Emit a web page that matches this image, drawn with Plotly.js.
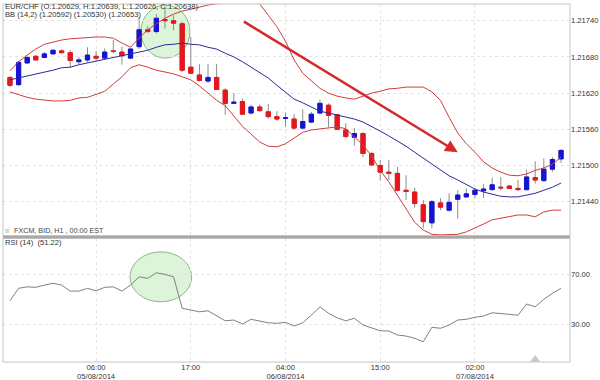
<!DOCTYPE html>
<html><head><meta charset="utf-8">
<script src="https://cdn.plot.ly/plotly-3.0.1.min.js"></script>
<style>html,body{margin:0;padding:0;background:#fff}#c{width:600px;height:380px}</style>
</head><body><div id="c"></div>
<script>
// ---- data (hourly EUR/CHF candles) ----
const open = [1.21646,1.21634,1.21670,1.21681,1.21679,1.21685,1.21690,1.21687,1.21672,1.21675,
1.21681,1.21678,1.21690,1.21688,1.21678,1.21697,1.21725,1.21722,1.21742,1.21740,
1.21735,1.21663,1.21650,1.21640,1.21646,1.21625,1.21603,1.21606,1.21587,1.21597,
1.21589,1.21581,1.21578,1.21577,1.21562,1.21572,1.21587,1.21600,1.21584,1.21559,
1.21547,1.21553,1.21520,1.21500,1.21489,1.21487,1.21459,1.21456,1.21435,1.21405,
1.21438,1.21426,1.21444,1.21448,1.21452,1.21458,1.21460,1.21464,1.21466,1.21462,
1.21460,1.21480,1.21475,1.21494,1.21511];
const high = [1.21648,1.21673,1.21683,1.21683,1.21688,1.21692,1.21693,1.21691,1.21680,1.21696,
1.21690,1.21694,1.21708,1.21697,1.21695,1.21746,1.21731,1.21751,1.21763,1.21749,
1.21738,1.21713,1.21668,1.21668,1.21668,1.21628,1.21620,1.21611,1.21601,1.21601,
1.21602,1.21590,1.21587,1.21585,1.21593,1.21589,1.21609,1.21603,1.21585,1.21570,
1.21562,1.21555,1.21522,1.21509,1.21509,1.21498,1.21484,1.21463,1.21443,1.21443,
1.21446,1.21454,1.21459,1.21462,1.21463,1.21469,1.21480,1.21481,1.21468,1.21476,
1.21493,1.21507,1.21512,1.21514,1.21527];
const low = [1.21630,1.21632,1.21669,1.21674,1.21678,1.21685,1.21686,1.21662,1.21668,1.21671,
1.21673,1.21677,1.21686,1.21667,1.21677,1.21693,1.21720,1.21719,1.21727,1.21724,
1.21655,1.21651,1.21639,1.21637,1.21625,1.21584,1.21603,1.21584,1.21585,1.21589,
1.21578,1.21574,1.21564,1.21559,1.21560,1.21570,1.21585,1.21564,1.21559,1.21546,
1.21533,1.21514,1.21499,1.21475,1.21476,1.21457,1.21443,1.21430,1.21396,1.21396,
1.21426,1.21424,1.21412,1.21447,1.21446,1.21446,1.21459,1.21459,1.21461,1.21458,
1.21459,1.21470,1.21473,1.21490,1.21504];
const close = [1.21633,1.21671,1.21679,1.21675,1.21685,1.21691,1.21687,1.21674,1.21675,1.21683,
1.21678,1.21688,1.21689,1.21682,1.21693,1.21725,1.21722,1.21744,1.21740,1.21736,
1.21658,1.21653,1.21641,1.21646,1.21626,1.21603,1.21605,1.21585,1.21597,1.21591,
1.21581,1.21577,1.21579,1.21562,1.21573,1.21585,1.21603,1.21583,1.21560,1.21548,
1.21553,1.21520,1.21501,1.21489,1.21487,1.21459,1.21457,1.21437,1.21407,1.21440,
1.21431,1.21439,1.21451,1.21453,1.21459,1.21461,1.21468,1.21463,1.21462,1.21460,
1.21481,1.21476,1.21494,1.21510,1.21525];
const bbUpper = [1.21657,1.21672,1.21683,1.21693,1.21701,1.21705,1.21708,1.21710,1.21711,1.21713,
1.21713,1.21713,1.21711,1.21703,1.21696,1.21711,1.21725,1.21735,1.21744,1.21751,
1.21756,1.21759,1.21763,1.21766,1.21768,1.21769,1.21779,1.21783,1.21779,1.21768,
1.21749,1.21730,1.21706,1.21675,1.21653,1.21640,1.21628,1.21620,1.21615,1.21612,
1.21610,1.21615,1.21620,1.21623,1.21627,1.21628,1.21630,1.21630,1.21630,1.21622,
1.21608,1.21580,1.21554,1.21536,1.21522,1.21506,1.21496,1.21489,1.21484,1.21483,
1.21486,1.21492,1.21496,1.21502,1.21514];
const bbMiddle = [1.21642,1.21645,1.21648,1.21652,1.21655,1.21658,1.21662,1.21663,1.21667,1.21670,
1.21672,1.21675,1.21678,1.21681,1.21685,1.21688,1.21691,1.21696,1.21700,1.21701,
1.21703,1.21701,1.21700,1.21696,1.21693,1.21686,1.21680,1.21672,1.21663,1.21653,
1.21645,1.21633,1.21622,1.21610,1.21604,1.21597,1.21590,1.21587,1.21584,1.21580,
1.21577,1.21572,1.21565,1.21557,1.21549,1.21541,1.21532,1.21522,1.21512,1.21502,
1.21492,1.21483,1.21476,1.21468,1.21461,1.21456,1.21453,1.21449,1.21448,1.21448,
1.21451,1.21454,1.21459,1.21464,1.21471];
const bbLower = [1.21622,1.21617,1.21613,1.21610,1.21608,1.21607,1.21607,1.21608,1.21612,1.21613,
1.21618,1.21623,1.21635,1.21647,1.21662,1.21667,1.21663,1.21658,1.21655,1.21652,
1.21647,1.21642,1.21632,1.21620,1.21608,1.21599,1.21582,1.21565,1.21552,1.21539,
1.21532,1.21531,1.21536,1.21546,1.21555,1.21559,1.21561,1.21562,1.21564,1.21561,
1.21547,1.21534,1.21516,1.21492,1.21473,1.21451,1.21428,1.21406,1.21393,1.21386,
1.21385,1.21385,1.21386,1.21390,1.21396,1.21403,1.21410,1.21413,1.21416,1.21418,
1.21418,1.21415,1.21423,1.21426,1.21426];
const rsi = [48.6,58.6,59.8,59.4,61.2,62.6,61.2,56.4,56.4,58.6,
56.6,59.4,59.8,56.4,61.2,67.8,66.6,71.0,69.8,67.8,
42.6,41.2,39.8,40.6,36.4,32.6,33.2,30.0,33.8,32.6,
31.0,30.6,31.4,28.4,31.0,37.2,43.8,38.6,35.0,32.6,
34.6,29.2,26.6,24.6,24.4,21.2,20.4,18.6,15.8,27.4,
26.6,29.2,33.2,33.8,35.4,36.4,39.0,38.6,37.8,37.0,
46.0,43.8,49.8,54.6,58.6];
const tickIndex = [10, 21, 32, 43, 54];
const tickText = ['06:00<br>05/08/2014','17:00','04:00<br>06/08/2014','15:00','02:00<br>07/08/2014'];
const priceTicks = [1.2144,1.2150,1.2156,1.2162,1.2168,1.2174];
const rsiTicks = [30, 70];
const flagIndex = [61];
const flagRsi = [1.6];
const headerText = 'EUR/CHF (O:1.20629, H:1.20639, L:1.20626, C:1.20638)';
const bbText = 'BB (14,2) (1.20592) (1.20530) (1.20653)';
const sourceText = 'FXCM, BID, H1 , 00:00 EST';
const rsiText = 'RSI (14)  (51.22)';

// ---- chart ----
const idx = open.map((_, i) => i);
const bodyHigh = open.map((o, i) => Math.max(o, close[i]));
const bodyLow = open.map((o, i) => Math.min(o, close[i]));
const FONT = '"Liberation Sans", Arial, sans-serif';
const FS = 7.6;
const BLUE = '#1414d4', RED = '#e8161c', WICK = '#8c8c8c';

const traces = [
  {type:'scatter', mode:'lines', x:idx, y:bbUpper, line:{color:'#d23c3c', width:1}, hoverinfo:'skip'},
  {type:'scatter', mode:'lines', x:idx, y:bbLower, line:{color:'#d23c3c', width:1}, hoverinfo:'skip'},
  {type:'scatter', mode:'lines', x:idx, y:bbMiddle, line:{color:'#2a2aa0', width:1}, hoverinfo:'skip'},
  {type:'candlestick', x:idx, open:open, high:high, low:low, close:close,
   increasing:{line:{color:WICK, width:1}, fillcolor:'rgba(0,0,0,0)'},
   decreasing:{line:{color:WICK, width:1}, fillcolor:'rgba(0,0,0,0)'},
   whiskerwidth:0, hoverinfo:'skip'},
  {type:'candlestick', x:idx, open:open, high:bodyHigh, low:bodyLow, close:close,
   increasing:{line:{color:BLUE, width:1}, fillcolor:BLUE},
   decreasing:{line:{color:RED, width:1}, fillcolor:RED},
   whiskerwidth:0, hoverinfo:'skip'},
  {type:'scatter', mode:'lines', x:idx, y:rsi, yaxis:'y2', line:{color:'#808080', width:1}, hoverinfo:'skip'},
  {type:'scatter', mode:'markers', x:flagIndex, y:flagRsi, yaxis:'y2', cliponaxis:false,
   marker:{symbol:'triangle-up', size:9, color:'#c8c8c8'}, hoverinfo:'skip'}
];

const gridC = '#e4e4e4';
const layout = {
  width:600, height:380, margin:{l:3, r:30, t:4, b:18},
  paper_bgcolor:'#fff', plot_bgcolor:'#fff', showlegend:false,
  font:{family:FONT, size:FS, color:'#333'},
  boxgap:0.3,
  xaxis:{range:[-0.81, 65.04], anchor:'y2', tickvals:tickIndex, ticktext:tickText,
    showgrid:true, gridcolor:gridC, griddash:'dot', zeroline:false, showline:false,
    ticks:'', tickfont:{size:FS, color:'#333'}, ticklabelstandoff:-1,
    rangeslider:{visible:false}, fixedrange:true},
  yaxis:{domain:[0.352,1], range:[1.213832, 1.217677], side:'right', tickvals:priceTicks,
    tickformat:'.5f', showgrid:true, gridcolor:gridC, griddash:'dot', zeroline:false,
    ticks:'', tickfont:{size:FS, color:'#333'}, showline:false},
  yaxis2:{domain:[0,0.346], range:[-0.4, 98.8], side:'right', tickvals:rsiTicks,
    tickformat:'.2f', showgrid:true, gridcolor:gridC, griddash:'dot', zeroline:false,
    ticks:'', tickfont:{size:FS, color:'#333'}, showline:false},
  shapes:[
    {type:'circle', xref:'x', yref:'y', x0:15.2, x1:20.9, y0:1.21678, y1:1.21766,
     fillcolor:'rgba(196,238,190,0.6)', line:{color:'#8cb884', width:1}, layer:'below'},
    {type:'circle', xref:'x', yref:'y2', x0:13.94, x1:21.1, y0:47.8, y1:87.8,
     fillcolor:'rgba(196,238,190,0.6)', line:{color:'#8cb884', width:1}, layer:'below'},
    {type:'rect', xref:'x domain', yref:'y domain', x0:0, x1:1, y0:0, y1:1, line:{color:'#c4c4c4', width:1}},
    {type:'rect', xref:'x domain', yref:'y2 domain', x0:0, x1:1, y0:0, y1:1, line:{color:'#c4c4c4', width:1}},
    {type:'line', xref:'paper', yref:'paper', x0:0, x1:1, y0:0.349, y1:0.349, line:{color:'#a8a8a8', width:3}},
    {type:'rect', xref:'paper', yref:'paper', x0:0.004, x1:0.011, y0:0.360, y1:0.372, fillcolor:'#d8d8d8', line:{width:0}}
  ],
  annotations:[
    {xref:'x', yref:'y', axref:'x', ayref:'y', x:52.0, y:1.21522, ax:27.0, ay:1.21740,
     text:'', showarrow:true, arrowhead:2, arrowsize:1, arrowwidth:2.5, arrowcolor:'#d42a2a'},
    {xref:'paper', yref:'paper', x:0, y:0.993, xanchor:'left', yanchor:'middle', showarrow:false,
     text:headerText, font:{size:FS, color:'#333'}},
    {xref:'paper', yref:'paper', x:0, y:0.9695, xanchor:'left', yanchor:'middle', showarrow:false,
     text:bbText, font:{size:FS, color:'#333'}},
    {xref:'paper', yref:'paper', x:0.015, y:0.366, xanchor:'left', yanchor:'middle', showarrow:false,
     text:sourceText, font:{size:7.2, color:'#444'}},
    {xref:'paper', yref:'paper', x:0, y:0.334, xanchor:'left', yanchor:'middle', showarrow:false,
     text:rsiText, font:{size:FS, color:'#333'}}
  ]
};
Plotly.newPlot('c', traces, layout, {staticPlot:true, displayModeBar:false});
</script></body></html>
